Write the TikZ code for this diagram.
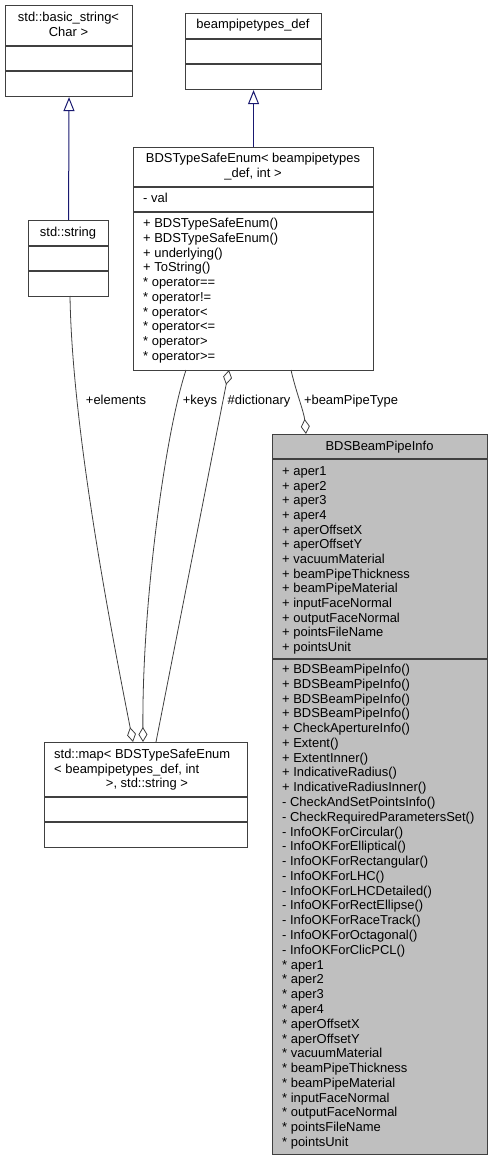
\documentclass[tikz,border=0pt]{standalone}
\usepackage{fontspec}
\setmainfont{Liberation Sans}
\usetikzlibrary{arrows.meta}
\definecolor{edgegray}{HTML}{404040}
\definecolor{inhblue}{HTML}{191970}
\definecolor{infofill}{HTML}{BFBFBF}
\tikzset{
  boxline/.style={draw=edgegray, line width=1.1pt},
  sepline/.style={draw=edgegray, line width=1.1pt},
  classtitle/.style={font=\fontsize{12.95}{14.75}\selectfont, inner sep=0pt, anchor=base, align=center},
  member/.style={font=\fontsize{12.95}{14.75}\selectfont, inner sep=0pt, anchor=base west},
  inherit/.style={draw=inhblue, line width=1pt, -{Triangle[open, fill=white, length=14pt, width=11pt]}},
  aggr/.style={draw=edgegray, line width=0.8pt, -{Diamond[open, fill=white, length=15pt, width=9pt]}},
  edgelabel/.style={font=\fontsize{12.95}{14.75}\selectfont, inner sep=0pt, anchor=base},
}
\newcommand{\classrect}[6]{%
  \node[boxline, fill=#6, minimum width={#4-#2}, minimum height={#5-#3}, inner sep=0pt, anchor=north west] (#1) at (#2,#3) {};
}
\begin{document}
\begin{tikzpicture}[x=1pt, y=-1pt]
\useasboundingbox (0,0) rectangle (492,1161);

% ---- std::basic_string< Char >
\classrect{bstr}{5}{5}{132}{96}{white}
\draw[sepline] (5,46) -- (132,46);
\draw[sepline] (5,71) -- (132,71);
\node[classtitle] (bstrT1) at (68.5,21.5) {std::basic\_string<};
\node[classtitle] (bstrT2) at (68.5,36.5) {Char >};

% ---- beampipetypes_def
\classrect{bpt}{185}{13}{321}{89}{white}
\draw[sepline] (185,39) -- (321,39);
\draw[sepline] (185,64) -- (321,64);
\node[classtitle] (bptT) at (253,28.5) {beampipetypes\_def};

% ---- std::string
\classrect{str}{28}{220}{108}{296}{white}
\draw[sepline] (28,246) -- (108,246);
\draw[sepline] (28,271) -- (108,271);
\node[classtitle] (strT) at (68,236.5) {std::string};

% ---- BDSTypeSafeEnum
\classrect{tse}{133}{147}{373}{370}{white}
\draw[sepline] (133,187) -- (373,187);
\draw[sepline] (133,212) -- (373,212);
\node[classtitle] (tseT1) at (253,162.5) {BDSTypeSafeEnum< beampipetypes};
\node[classtitle] (tseT2) at (253,177.5) {\_def, int >};
\node[member] (tseA1) at (143,202.5) {- val};
\foreach \t [count=\i from 0] in {%
  + BDSTypeSafeEnum(), + BDSTypeSafeEnum(), + underlying(), + ToString(),
  * operator==, * operator!=, * operator<, * operator<=, * operator>, * operator>=}
  \node[member] (tseM\i) at (143,{227.5+14.75*\i}) {\t};

% ---- std::map
\classrect{map}{44}{742}{247}{847}{white}
\draw[sepline] (44,797) -- (247,797);
\draw[sepline] (44,822) -- (247,822);
\node[member] (mapT1) at (54,758.5) {std::map< BDSTypeSafeEnum};
\node[member] (mapT2) at (54,773) {< beampipetypes\_def, int};
\node[classtitle] (mapT3) at (147,787.5) {>, std::string >};

% ---- BDSBeamPipeInfo
\classrect{info}{272}{434}{487}{1154}{infofill}
\draw[sepline] (272,459) -- (487,459);
\draw[sepline] (272,659) -- (487,659);
\node[classtitle] (infoT) at (379.5,450.5) {BDSBeamPipeInfo};
\foreach \t [count=\i from 0] in {%
  + aper1, + aper2, + aper3, + aper4, + aperOffsetX, + aperOffsetY,
  + vacuumMaterial, + beamPipeThickness, + beamPipeMaterial,
  + inputFaceNormal, + outputFaceNormal, + pointsFileName, + pointsUnit}
  \node[member] (infoA\i) at (282,{475.5+14.67*\i}) {\t};
\foreach \t [count=\i from 0] in {%
  + BDSBeamPipeInfo(), + BDSBeamPipeInfo(), + BDSBeamPipeInfo(), + BDSBeamPipeInfo(),
  + CheckApertureInfo(), + Extent(), + ExtentInner(), + IndicativeRadius(),
  + IndicativeRadiusInner(), - CheckAndSetPointsInfo(), - CheckRequiredParametersSet(),
  - InfoOKForCircular(), - InfoOKForElliptical(), - InfoOKForRectangular(),
  - InfoOKForLHC(), - InfoOKForLHCDetailed(), - InfoOKForRectEllipse(),
  - InfoOKForRaceTrack(), - InfoOKForOctagonal(), - InfoOKForClicPCL(),
  * aper1, * aper2, * aper3, * aper4, * aperOffsetX, * aperOffsetY,
  * vacuumMaterial, * beamPipeThickness, * beamPipeMaterial,
  * inputFaceNormal, * outputFaceNormal, * pointsFileName, * pointsUnit}
  \node[member] (infoM\i) at (282,{673.5+14.78*\i}) {\t};

% ---- inheritance
\draw[inherit] (str.north) -- (bstr.south);
\draw[inherit] (tse.north) -- (bpt.south);

% ---- aggregations
\coordinate (elS) at (70,296);
\coordinate (elE) at (133,742);
\draw[aggr] (elS) .. controls (72,420) and (105,600) .. (elE);
\node[edgelabel] (elL) at (116,404.5) {+elements};

\coordinate (keS) at (186,370);
\coordinate (keE) at (143,742);
\draw[aggr] (keS) .. controls (166,430) and (142,600) .. (keE);
\node[edgelabel] (keL) at (200,404.5) {+keys};

\coordinate (diS) at (156,742);
\coordinate (diE) at (229,370);
\draw[aggr] (diS) -- (diE);
\node[edgelabel] (diL) at (259,404.5) {\#dictionary};

\coordinate (bpS) at (291,370);
\coordinate (bpE) at (306,434);
\draw[aggr] (bpS) .. controls (296,392) and (304,412) .. (bpE);
\node[edgelabel] (bpL) at (351,404.5) {+beamPipeType};
\end{tikzpicture}
\end{document}
